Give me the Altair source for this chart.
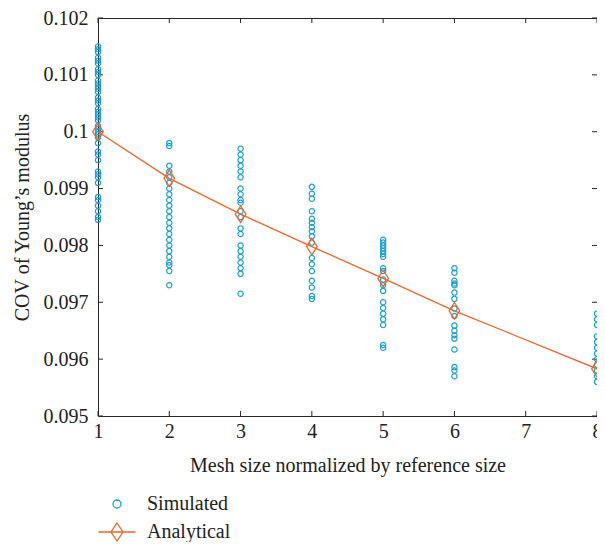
import altair as alt
import pandas as pd

# ---------------- data ----------------
sim_x1 = [0.1015, 0.10145, 0.1014, 0.1013, 0.10125, 0.1012, 0.1011, 0.10105, 0.101, 0.1009,
          0.10085, 0.1008, 0.10075, 0.1007, 0.1006, 0.10055, 0.1005, 0.1004, 0.10035, 0.1003,
          0.10025, 0.1002, 0.1001, 0.10005, 0.1, 0.09995, 0.0999, 0.0998, 0.09965, 0.0996,
          0.0995, 0.0993, 0.09925, 0.0992, 0.0991, 0.09885, 0.0988, 0.0987, 0.0986, 0.0985, 0.09845]
sim_x2 = [0.0998, 0.09975, 0.0994, 0.0993, 0.0992, 0.0991, 0.099, 0.0989, 0.0988, 0.0987,
          0.0986, 0.0985, 0.0984, 0.0983, 0.0982, 0.0981, 0.098, 0.0979, 0.0978, 0.0977,
          0.09765, 0.09755, 0.0973]
sim_x3 = [0.0997, 0.0996, 0.0995, 0.0994, 0.0993, 0.0992, 0.099, 0.0989, 0.0988, 0.09875,
          0.0986, 0.0985, 0.0983, 0.0982, 0.098, 0.0979, 0.0978, 0.0977, 0.0976, 0.0975, 0.09715]
sim_x4 = [0.09903, 0.09891, 0.09882, 0.0986, 0.09847, 0.0984, 0.09832, 0.09825, 0.09816,
          0.09805, 0.09778, 0.09767, 0.09755, 0.09738, 0.09726, 0.09711, 0.09706]
sim_x5 = [0.0981, 0.09805, 0.098, 0.09795, 0.0979, 0.09785, 0.0978, 0.0976, 0.09755, 0.0974,
          0.0973, 0.0972, 0.097, 0.0969, 0.0968, 0.0967, 0.0966, 0.09625, 0.0962]
sim_x6 = [0.0976, 0.09752, 0.09738, 0.09733, 0.0973, 0.09717, 0.09706, 0.09689, 0.09676,
          0.09659, 0.0965, 0.09642, 0.09636, 0.09617, 0.09586, 0.0958, 0.0957]
sim_x8 = [0.0968, 0.0967, 0.0966, 0.0964, 0.0963, 0.0962, 0.0961, 0.096, 0.0959, 0.0958,
          0.0957, 0.0956]

ana_x = [1, 2, 3, 4, 5, 6, 8]
ana_y = [0.1, 0.09918, 0.09855, 0.09798, 0.09742, 0.09685, 0.09583]

x_ticks = [1, 2, 3, 4, 5, 6, 7, 8]
y_ticks = [0.095, 0.096, 0.097, 0.098, 0.099, 0.1, 0.101, 0.102]

series = ["Simulated", "Analytical"]
BLUE = "#1a9fd4"
ORANGE = "#f0662b"
FONT = "Liberation Serif"
FS = 20

groups = {1: sim_x1, 2: sim_x2, 3: sim_x3, 4: sim_x4, 5: sim_x5, 6: sim_x6, 8: sim_x8}
sim_df = pd.DataFrame(
    [{"x": k, "y": v} for k, vals in groups.items() for v in vals]
)
ana_df = pd.DataFrame({"x": ana_x, "y": ana_y})
leg_df = pd.DataFrame({"series": series, "x": [ana_x[0]] * 2, "y": [ana_y[0]] * 2})
xt_df = pd.DataFrame({"t": x_ticks})
yt_df = pd.DataFrame({"t": y_ticks})

W, H = 499, 398

xscale = alt.Scale(domain=[1, 8], nice=False, zero=False)
yscale = alt.Scale(domain=[0.095, 0.102], nice=False, zero=False)

CIRCLE_PATH = "M0.8,0A0.8,0.8,0,1,1,-0.8,0A0.8,0.8,0,1,1,0.8,0Z"
LINE_DIAMOND_PATH = "M-3.7,0H3.7M0,-1.8L1.2,0L0,1.8L-1.2,0Z"

color_scale = alt.Scale(domain=series, range=[BLUE, ORANGE])
shape_scale = alt.Scale(domain=series, range=[CIRCLE_PATH, LINE_DIAMOND_PATH])


def make_legend():
    return alt.Legend(
        title=None,
        orient="none",
        legendX=9,
        legendY=476,
        labelFont=FONT,
        labelFontSize=FS,
        labelColor="#222222",
        labelOffset=20,
        rowPadding=6,
        symbolSize=100,
        symbolStrokeWidth=1.3,
        symbolOpacity=1,
        symbolFillColor="transparent",
    )


x_enc = alt.X(
    "x:Q", scale=xscale,
    axis=alt.Axis(values=x_ticks, format="d", labelFlush=False, labelPadding=5,
                  title="Mesh size normalized by reference size", titlePadding=14),
)
y_enc = alt.Y(
    "y:Q", scale=yscale,
    axis=alt.Axis(values=y_ticks, format="~g", labelPadding=10,
                  title="COV of Young\u2019s modulus", titlePadding=11),
)

sim = alt.Chart(sim_df).mark_point(
    shape="circle", filled=False, size=28, strokeWidth=1.2, color=BLUE, opacity=1
).encode(x=x_enc, y=y_enc)

line = alt.Chart(ana_df).mark_line(color=ORANGE, strokeWidth=1.3).encode(
    x=alt.X("x:Q", scale=xscale), y=alt.Y("y:Q", scale=yscale)
)

ana_pts = alt.Chart(ana_df).mark_point(
    shape="M0,-1L0.64,0L0,1L-0.64,0Z", filled=False, size=276, strokeWidth=1.3,
    color=ORANGE, opacity=1
).encode(x=alt.X("x:Q", scale=xscale), y=alt.Y("y:Q", scale=yscale))

leg = alt.Chart(leg_df).mark_point(
    filled=False, size=100, strokeWidth=1.3, opacity=0
).encode(
    x=alt.X("x:Q", scale=xscale), y=alt.Y("y:Q", scale=yscale),
    color=alt.Color("series:N", scale=color_scale, legend=make_legend()),
    shape=alt.Shape("series:N", scale=shape_scale, legend=make_legend()),
)

TICK = "#262626"
tick_bottom = alt.Chart(xt_df).mark_rule(color=TICK, strokeWidth=1).encode(
    x=alt.X("t:Q", scale=xscale), y=alt.value(H), y2=alt.value(H - 5)
)
tick_top = alt.Chart(xt_df).mark_rule(color=TICK, strokeWidth=1).encode(
    x=alt.X("t:Q", scale=xscale), y=alt.value(0), y2=alt.value(5)
)
tick_left = alt.Chart(yt_df).mark_rule(color=TICK, strokeWidth=1).encode(
    y=alt.Y("t:Q", scale=yscale), x=alt.value(0), x2=alt.value(5)
)
tick_right = alt.Chart(yt_df).mark_rule(color=TICK, strokeWidth=1).encode(
    y=alt.Y("t:Q", scale=yscale), x=alt.value(W), x2=alt.value(W - 5)
)

chart = alt.layer(
    tick_bottom, tick_top, tick_left, tick_right, sim, line, ana_pts, leg
).properties(
    width=W, height=H,
    background="white",
    autosize=alt.AutoSizeParams(type="none"),
    padding={"left": 90, "top": 10, "right": 0, "bottom": 126},
).configure_view(
    stroke="#262626", strokeWidth=1
).configure_axis(
    labelFont=FONT, labelFontSize=FS, labelColor="#222222",
    titleFont=FONT, titleFontSize=FS, titleColor="#222222", titleFontWeight="normal",
    tickSize=0, domain=False, grid=False,
)

chart.save("out.html", embed_options={"renderer": "svg", "actions": False})
